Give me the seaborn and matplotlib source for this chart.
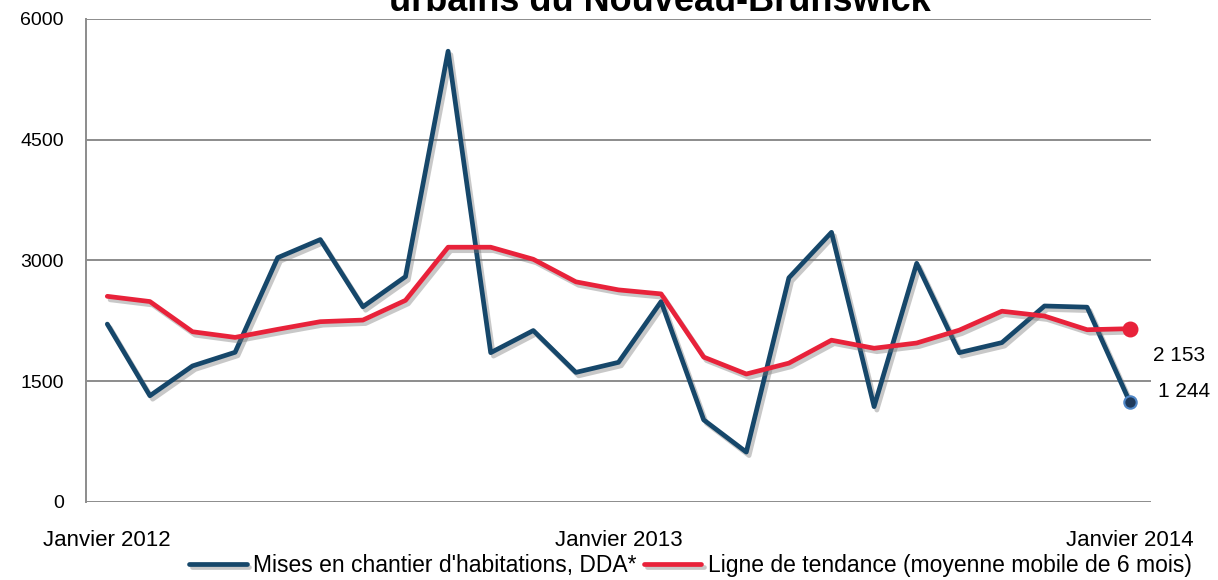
import matplotlib
matplotlib.use("Agg")
import matplotlib.pyplot as plt
import matplotlib.patheffects as pe
import pandas as pd
import seaborn as sns

# monthly housing starts, Jan 2012 .. Jan 2014
months = list(range(25))
tick_pos = [0, 12, 24]
tick_labels = ["Janvier 2012", "Janvier 2013", "Janvier 2014"]
starts = [2210, 1320, 1690, 1860, 3035, 3260, 2425, 2800, 5600, 1855,
          2130, 1610, 1735, 2490, 1020, 620, 2785, 3350, 1185, 2965,
          1855, 1980, 2435, 2420, 1244]
trend = [2555, 2490, 2115, 2045, 2145, 2240, 2260, 2505, 3165, 3165,
         3015, 2735, 2635, 2585, 1800, 1590, 1725, 2010, 1910, 1975,
         2135, 2370, 2310, 2140, 2153]
label_starts = "Mises en chantier d'habitations, DDA*"
label_trend = "Ligne de tendance (moyenne mobile de 6 mois)"
title = "urbains du Nouveau-Brunswick"

BLUE = "#16476A"
RED = "#E8223A"
GRID = "#8C8C8C"

sns.set_style("white")
plt.rcParams["font.family"] = ["Liberation Sans", "DejaVu Sans"]
plt.rcParams["text.color"] = "black"

df = pd.DataFrame({"mois": months, "starts": starts, "trend": trend})

fig = plt.figure(figsize=(12.18, 5.80), dpi=100)
ax = fig.add_axes([86 / 1218, 78 / 580, 1065 / 1218, 483 / 580])

shadow = [pe.SimpleLineShadow(offset=(2, -2.5), shadow_color="#777777", alpha=0.4),
          pe.Normal()]

sns.lineplot(data=df, x="mois", y="starts", ax=ax, color=BLUE, linewidth=3.4,
             label=label_starts, path_effects=shadow, zorder=3)
sns.lineplot(data=df, x="mois", y="trend", ax=ax, color=RED, linewidth=3.4,
             label=label_trend, path_effects=shadow, zorder=4)

ax.scatter([months[-1]], [starts[-1]], s=80, color="#1E3A5C",
           edgecolor="#4F86C6", linewidth=1.5, zorder=5)
ax.scatter([months[-1]], [trend[-1]], s=110, color=RED, zorder=6)

ax.annotate(f"{trend[-1]:,}".replace(",", " "), (months[-1], trend[-1]),
            xytext=(23, -27), textcoords="offset pixels",
            ha="left", va="center", fontsize=15, annotation_clip=False)
ax.annotate(f"{starts[-1]:,}".replace(",", " "), (months[-1], starts[-1]),
            xytext=(28, 10), textcoords="offset pixels",
            ha="left", va="center", fontsize=15, annotation_clip=False)

ax.set_xlim(-0.5, 24.5)
ax.set_ylim(0, 6000)
ax.set_yticks([0, 1500, 3000, 4500, 6000])
ax.set_xticks(tick_pos)
ax.set_xticklabels(tick_labels)
ax.set_xlabel("")
ax.set_ylabel("")
ax.grid(axis="y", color=GRID, linewidth=1.4)
ax.set_axisbelow(True)
for side in ["top", "right", "bottom"]:
    ax.spines[side].set_visible(False)
ax.spines["left"].set_color(GRID)
ax.spines["left"].set_linewidth(1.4)
ax.tick_params(axis="y", length=6, width=1.4, color=GRID, pad=10,
               labelsize=14, labelcolor="black")
ax.tick_params(axis="x", length=0, pad=20, labelsize=16, labelcolor="black")

ax.get_legend().remove()
handles, labels = ax.get_legend_handles_labels()
fig.legend(handles, labels, loc="center", bbox_to_anchor=(0.567, 0.025),
           ncol=2, frameon=False, fontsize=16.5, handlelength=2.5,
           handletextpad=0.3, columnspacing=0.3, borderpad=0.1)

fig.text(0.542, 1 - 11 / 580, title, ha="center", va="baseline",
         fontsize=26, fontweight="bold")

fig.savefig("out.png", dpi=100)
